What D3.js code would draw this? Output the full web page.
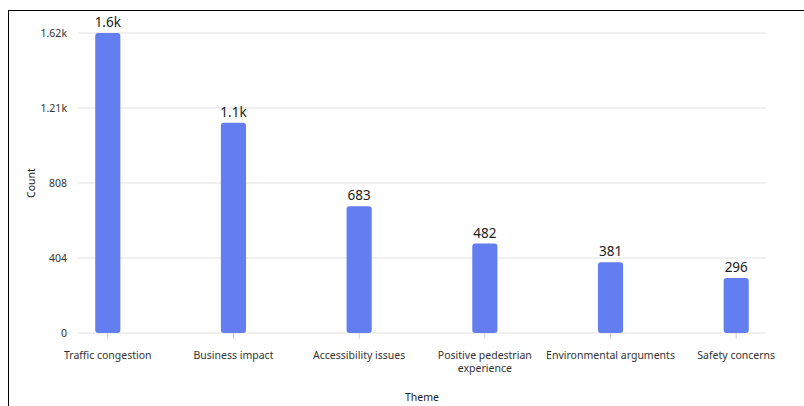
<!DOCTYPE html>
<html><head><meta charset="utf-8">
<script src="https://cdn.jsdelivr.net/npm/d3@7"></script>
<style>
html,body{margin:0;padding:0;background:#fff;overflow:hidden;}
#frame{position:absolute;left:8px;top:10px;width:820px;height:420px;border-top:1.5px solid #000;border-left:1.5px solid #000;box-sizing:border-box;}
svg{position:absolute;left:0;top:0;}
text{font-family:"Noto Sans","Open Sans",sans-serif;}
</style></head>
<body><div id="frame"></div><svg id="chart" width="804" height="406"></svg>
<script>
const categories = ["Traffic congestion","Business impact","Accessibility issues","Positive pedestrian experience","Environmental arguments","Safety concerns"];
const categoryLines = [["Traffic congestion"],["Business impact"],["Accessibility issues"],["Positive pedestrian","experience"],["Environmental arguments"],["Safety concerns"]];
const counts = [1616, 1133, 683, 482, 381, 296];
const valueLabels = ["1.6k","1.1k","683","482","381","296"];
const yTicks = [0, 404, 808, 1212, 1616];
const yTickLabels = ["0","404","808","1.21k","1.62k"];

(function() {
const svg = d3.select("#chart");
const mLeft = 78, mRight = 766, mTop = 33, mBottom = 333;
const x = d3.scaleBand().domain(categories).range([mLeft, mRight]).paddingInner(0.8).paddingOuter(0.137);
const y = d3.scaleLinear().domain([0, 1616]).range([mBottom, mTop]);

// gridlines
svg.append("g").selectAll("line").data(yTicks).join("line")
  .attr("x1", mLeft).attr("x2", mRight)
  .attr("y1", d => y(d)).attr("y2", d => y(d))
  .attr("stroke", "#e1e1e1").attr("stroke-width", 1.2);

// y tick labels
svg.append("g").selectAll("text").data(yTicks).join("text")
  .attr("x", 67).attr("y", d => y(d)).attr("dy", "0.35em")
  .attr("text-anchor", "end").attr("font-size", 10.5).attr("fill", "#333")
  .text((d, i) => yTickLabels[i]);

// x tick marks
svg.append("g").selectAll("line").data(categories).join("line")
  .attr("x1", d => x(d) + x.bandwidth()/2).attr("x2", d => x(d) + x.bandwidth()/2)
  .attr("y1", mBottom).attr("y2", mBottom + 6)
  .attr("stroke", "#cfcfcf").attr("stroke-width", 1);

// x tick labels
const xl = svg.append("g").selectAll("text").data(categories).join("text")
  .attr("x", d => x(d) + x.bandwidth()/2).attr("y", 359)
  .attr("text-anchor", "middle").attr("font-size", 10.5).attr("fill", "#333");
xl.each(function(d, i) {
  const t = d3.select(this);
  categoryLines[i].forEach((ln, j) => {
    t.append("tspan").attr("x", x(d) + x.bandwidth()/2).attr("dy", j === 0 ? 0 : 13).text(ln);
  });
});

// bars
svg.append("g").selectAll("rect").data(categories).join("rect")
  .attr("x", d => x(d)).attr("width", x.bandwidth())
  .attr("y", (d, i) => y(counts[i])).attr("height", (d, i) => y(0) - y(counts[i]))
  .attr("rx", 3).attr("ry", 3).attr("fill", "#627ef0");

// value labels
svg.append("g").selectAll("text").data(categories).join("text")
  .attr("x", d => x(d) + x.bandwidth()/2).attr("y", (d, i) => y(counts[i]) - 6)
  .attr("text-anchor", "middle").attr("font-size", 13.5).attr("fill", "#222")
  .text((d, i) => valueLabels[i]);

// axis titles
svg.append("text").attr("transform", `translate(35,${(mTop+mBottom)/2}) rotate(-90)`)
  .attr("text-anchor", "middle").attr("font-size", 10.5).attr("fill", "#222").text("Count");
svg.append("text").attr("x", (mLeft+mRight)/2).attr("y", 401)
  .attr("text-anchor", "middle").attr("font-size", 10.5).attr("fill", "#222").text("Theme");
})();
</script></body></html>
